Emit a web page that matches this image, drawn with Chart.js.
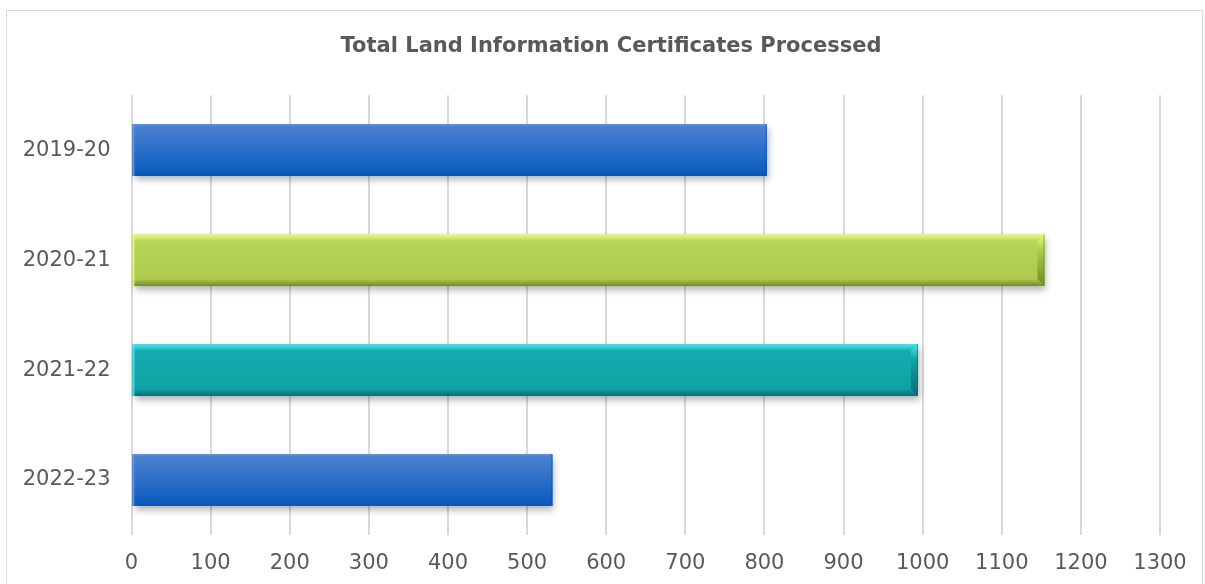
<!DOCTYPE html>
<html>
<head>
<meta charset="utf-8">
<script src="https://cdn.jsdelivr.net/npm/chart.js@4.4.1/dist/chart.umd.min.js"></script>
<style>
  html, body { margin: 0; padding: 0; background: #fff; }
  #wrap { width: 1205px; height: 584px; }
</style>
</head>
<body>
<div id="wrap"><canvas id="landChart"></canvas></div>
<script>
// data
var categories = ['2019-20', '2020-21', '2021-22', '2022-23'];
var certificates = [803, 1154, 994, 532];
var xTicks = [0, 100, 200, 300, 400, 500, 600, 700, 800, 900, 1000, 1100, 1200, 1300];

// per-bar look: [top highlight, body top, body bottom, dark edge, bevel size]
var barLooks = [
  ['#6a98dc', '#4c80d0', '#0a5bbe', '#0b519f', 2],
  ['#ecfb8e', '#b6d455', '#adca4e', '#6f8a2c', 7],
  ['#4ae8f0', '#15abae', '#10a2a5', '#0a6a6d', 7],
  ['#6a98dc', '#4c80d0', '#0a5bbe', '#0b519f', 2]
];

var FONT = '"DejaVu Sans", sans-serif';

// soft drop shadow under bars, then gradient + bevel over each bar
var barStylePlugin = {
  id: 'barStyle',
  beforeDatasetsDraw: function (chart) {
    var ctx = chart.ctx;
    ctx.save();
    ctx.shadowColor = 'rgba(0,0,0,0.3)';
    ctx.shadowBlur = 7;
    ctx.shadowOffsetX = 2;
    ctx.shadowOffsetY = 4;
  },
  afterDatasetsDraw: function (chart) {
    var ctx = chart.ctx;
    ctx.restore();
    var meta = chart.getDatasetMeta(0);
    meta.data.forEach(function (bar, i) {
      var look = barLooks[i];
      var bev = look[4];
      var left = bar.base, right = bar.x;
      var top = bar.y - bar.height / 2, bottom = bar.y + bar.height / 2;
      var h = bottom - top;
      var g = ctx.createLinearGradient(0, top, 0, bottom);
      g.addColorStop(0, look[0]);
      g.addColorStop(bev / h, look[1]);
      g.addColorStop(1 - bev / h, look[2]);
      g.addColorStop(1, look[3]);
      ctx.save();
      ctx.fillStyle = g;
      ctx.fillRect(left, top, right - left, h);
      // right bevel face
      if (bev > 2) {
        var g2 = ctx.createLinearGradient(0, top, 0, bottom);
        g2.addColorStop(0, look[0]);
        g2.addColorStop(0.3, look[2]);
        g2.addColorStop(1, look[3]);
        ctx.fillStyle = g2;
        ctx.beginPath();
        ctx.moveTo(right, top);
        ctx.lineTo(right, bottom);
        ctx.lineTo(right - bev, bottom - bev);
        ctx.lineTo(right - bev, top + bev);
        ctx.closePath();
        ctx.fill();
      }
      ctx.strokeStyle = look[3];
      ctx.globalAlpha = 0.6;
      ctx.lineWidth = 1;
      ctx.beginPath();
      ctx.moveTo(right - 0.5, top);
      ctx.lineTo(right - 0.5, bottom);
      ctx.stroke();
      // light left edge
      ctx.globalAlpha = 0.8;
      ctx.fillStyle = look[0];
      ctx.fillRect(left, top, 2, h);
      ctx.restore();
    });
  }
};

// thin frame round the chart
var framePlugin = {
  id: 'frame',
  afterDraw: function (chart) {
    var ctx = chart.ctx;
    ctx.save();
    ctx.strokeStyle = '#d9d9d9';
    ctx.lineWidth = 1;
    ctx.strokeRect(6.5, 10.5, 1196, 600);
    ctx.restore();
  }
};

var ctx = document.getElementById('landChart');
var landChart = new Chart(ctx, {
  type: 'bar',
  data: {
    labels: categories,
    datasets: [{
      data: certificates,
      backgroundColor: barLooks.map(function (l) { return l[2]; }),
      borderWidth: 0,
      barPercentage: 0.47,
      categoryPercentage: 1
    }]
  },
  options: {
    indexAxis: 'y',
    responsive: true,
    maintainAspectRatio: false,
    animation: false,
    layout: { padding: { left: 20, right: 3, top: 0, bottom: 0 } },
    plugins: {
      legend: { display: false },
      tooltip: { enabled: false },
      title: {
        display: true,
        text: 'Total Land Information Certificates Processed',
        color: '#595959',
        font: { family: FONT, size: 21, weight: 'bold' },
        padding: { top: 34, bottom: 36 }
      }
    },
    scales: {
      x: {
        min: 0,
        max: 1300,
        afterBuildTicks: function (axis) {
          axis.ticks = xTicks.map(function (v) { return { value: v }; });
        },
        afterFit: function (axis) { axis.height = 49; },
        grid: { color: '#d9d9d9', lineWidth: 2, drawTicks: false },
        border: { display: false },
        ticks: {
          color: '#595959', padding: 16, font: { family: FONT, size: 21 },
          callback: function (v) { return String(v); }
        }
      },
      y: {
        afterFit: function (axis) { axis.width = 111.5; },
        grid: { display: false, drawTicks: false },
        border: { display: false },
        ticks: { color: '#595959', padding: 21, font: { family: FONT, size: 21 } }
      },
      // empty right-hand spacer so the plot ends where the reference does
      yRight: {
        type: 'linear',
        position: 'right',
        afterFit: function (axis) { axis.width = 42; },
        grid: { display: false },
        border: { display: false },
        ticks: { display: false }
      }
    }
  },
  plugins: [barStylePlugin, framePlugin]
});
</script>
</body>
</html>
